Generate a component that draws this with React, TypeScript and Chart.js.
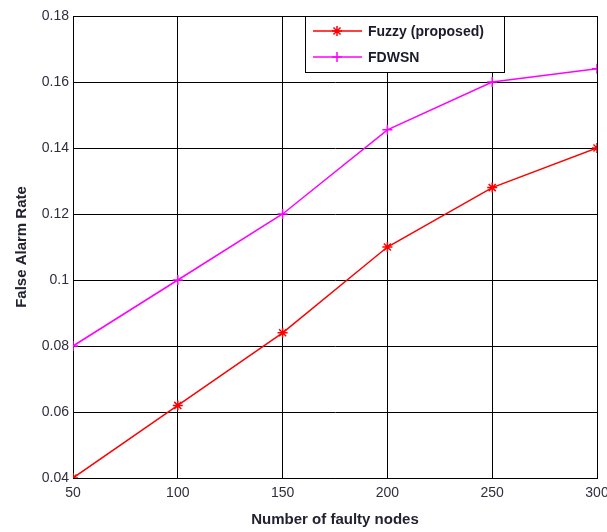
import React, { useEffect, useRef } from "react";
import { Chart, registerables } from "chart.js";

Chart.register(...registerables);

const nodes = [50, 100, 150, 200, 250, 300];
const fuzzyRate = [0.04, 0.062, 0.084, 0.11, 0.128, 0.14];
const fdwsnRate = [0.08, 0.1, 0.12, 0.1455, 0.16, 0.164];
const seriesNames = ["Fuzzy (proposed)", "FDWSN"];
const seriesColors = ["#ff0000", "#ff00ff"];
const xTitle = "Number of faulty nodes";
const yTitle = "False Alarm Rate";

function drawMarker(ctx: CanvasRenderingContext2D, kind: string, x: number, y: number, r: number) {
  ctx.beginPath();
  ctx.moveTo(x - r, y);
  ctx.lineTo(x + r, y);
  ctx.moveTo(x, y - r);
  ctx.lineTo(x, y + r);
  if (kind === "star") {
    const d = r * 0.7071;
    ctx.moveTo(x - d, y - d);
    ctx.lineTo(x + d, y + d);
    ctx.moveTo(x - d, y + d);
    ctx.lineTo(x + d, y - d);
  }
  ctx.stroke();
}

const legendPlugin = {
  id: "insideLegend",
  afterDraw(chart: any) {
    const ctx = chart.ctx as CanvasRenderingContext2D;
    const area = chart.chartArea;
    const x0 = area.left + 232;
    const y0 = area.top;
    const w = 199;
    const h = 56;
    ctx.save();
    ctx.fillStyle = "#ffffff";
    ctx.fillRect(x0, y0, w, h);
    ctx.strokeStyle = "#000000";
    ctx.lineWidth = 1;
    ctx.strokeRect(x0 + 0.5, y0 + 0.5, w, h);
    const kinds = ["star", "cross"];
    const rows = [y0 + 15, y0 + 41];
    ctx.font = "bold 14px 'Liberation Sans', Arial, sans-serif";
    ctx.textBaseline = "middle";
    for (let i = 0; i < 2; i++) {
      ctx.strokeStyle = seriesColors[i];
      ctx.lineWidth = 1.5;
      ctx.beginPath();
      ctx.moveTo(x0 + 8, rows[i]);
      ctx.lineTo(x0 + 57, rows[i]);
      ctx.stroke();
      drawMarker(ctx, kinds[i], x0 + 32, rows[i], 5);
      ctx.fillStyle = "#1a1a2a";
      ctx.fillText(seriesNames[i], x0 + 63, rows[i] + 1);
    }
    ctx.restore();
  },
};

export default function App() {
  const ref = useRef<HTMLCanvasElement | null>(null);
  useEffect(() => {
    if (!ref.current) return;
    const tickFont = { family: "'Liberation Sans', Arial, sans-serif", size: 14 };
    const titleFont = { family: "'Liberation Sans', Arial, sans-serif", size: 15, weight: "bold" as const };
    const chart = new Chart(ref.current, {
      type: "line",
      data: {
        datasets: [
          {
            label: seriesNames[0],
            data: nodes.map((n, i) => ({ x: n, y: fuzzyRate[i] })),
            borderColor: seriesColors[0],
            backgroundColor: seriesColors[0],
            borderWidth: 1.5,
            pointStyle: "star",
            pointRadius: 5,
            pointBorderWidth: 1.5,
          },
          {
            label: seriesNames[1],
            data: nodes.map((n, i) => ({ x: n, y: fdwsnRate[i] })),
            borderColor: seriesColors[1],
            backgroundColor: seriesColors[1],
            borderWidth: 1.5,
            pointStyle: "cross",
            pointRadius: 5,
            pointBorderWidth: 1.5,
          },
        ],
      },
      options: {
        responsive: false,
        animation: false,
        layout: { padding: { top: 16, right: 10, left: 0, bottom: 0 } },
        plugins: { legend: { display: false }, tooltip: { enabled: false } },
        scales: {
          x: {
            type: "linear",
            min: 50,
            max: 300,
            ticks: { stepSize: 50, color: "#2e2e3e", font: tickFont, padding: 7 },
            grid: { color: "#000000", lineWidth: 1, drawTicks: false },
            border: { color: "#000000", width: 1 },
            title: { display: true, text: xTitle, color: "#222230", font: titleFont, padding: { top: 4, bottom: 3 } },
            afterFit: (s: any) => {
              s.height = 54;
              s.paddingLeft = 0;
              s.paddingRight = 0;
            },
          },
          y: {
            min: 0.04,
            max: 0.18,
            ticks: {
              stepSize: 0.02,
              color: "#2e2e3e",
              font: tickFont,
              padding: 4,
              callback: (v: any) => String(Number(Number(v).toFixed(2))),
            },
            grid: { color: "#000000", lineWidth: 1, drawTicks: false },
            border: { color: "#000000", width: 1 },
            title: { display: true, text: yTitle, color: "#222230", font: titleFont, padding: { top: 13, bottom: 4 } },
            afterFit: (s: any) => {
              s.width = 73;
              s.paddingTop = 0;
              s.paddingBottom = 0;
            },
          },
        },
      },
      plugins: [legendPlugin],
    });
    return () => chart.destroy();
  }, []);
  return (
    <div style={{ position: "absolute", left: 0, top: 0, width: 607, height: 532, background: "#fff" }}>
      <canvas ref={ref} width={607} height={532} style={{ display: "block" }} />
    </div>
  );
}
